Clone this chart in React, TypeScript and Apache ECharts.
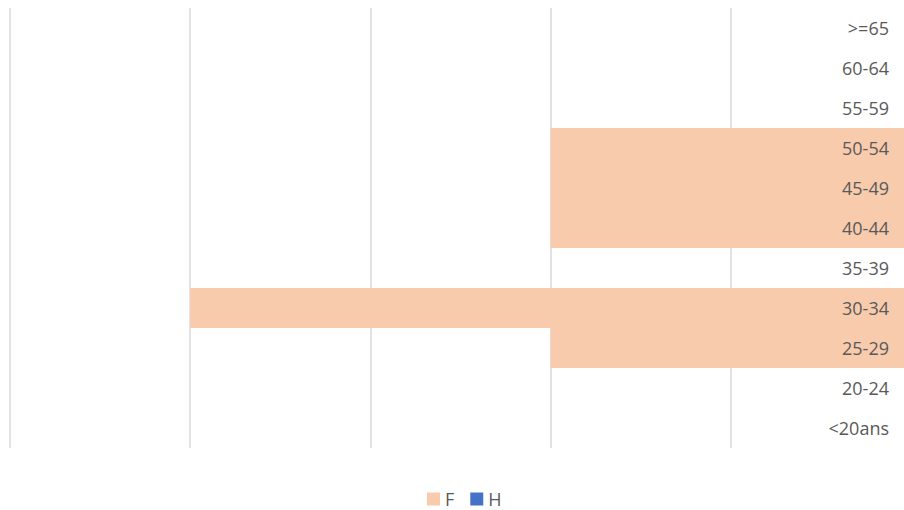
import React, { useEffect, useRef } from "react";
import * as echarts from "echarts";

const categories = ["<20ans", "20-24", "25-29", "30-34", "35-39", "40-44", "45-49", "50-54", "55-59", "60-64", ">=65"];
const femmes = [0, 0, 2, 4, 0, 2, 2, 2, 0, 0, 0];
const hommes = [0, 0, 0, 0, 0, 0, 0, 0, 0, 0, 0];
const seriesNames = ["F", "H"];

export default function App() {
  const ref = useRef<HTMLDivElement>(null);
  useEffect(() => {
    if (!ref.current) return;
    const chart = echarts.init(ref.current, undefined, { renderer: "svg" });
    chart.setOption({
      animation: false,
      textStyle: { fontFamily: "Open Sans" },
      legend: {
        top: 490,
        left: 427,
        padding: 0,
        itemWidth: 13,
        itemHeight: 13,
        itemGap: 16,
        icon: "rect",
        textStyle: { color: "#595959", fontSize: 18, lineHeight: 18, fontFamily: "Open Sans" },
        data: seriesNames,
      },
      grid: { left: 10, right: 9, top: 8, height: 440, containLabel: false },
      xAxis: {
        type: "value",
        min: -5,
        max: 0,
        interval: 1,
        axisLabel: { show: false },
        axisLine: { show: false },
        axisTick: { show: false },
        splitLine: { lineStyle: { color: "#D9D9D9", width: 1.5 } },
      },
      yAxis: {
        type: "category",
        data: categories,
        position: "right",
        axisLine: { show: false },
        axisTick: { show: false },
        axisLabel: {
          inside: true,
          margin: 22,
          color: "#595959",
          fontSize: 18,
          fontFamily: "Open Sans",
        },
        z: 10,
      },
      series: [
        {
          name: seriesNames[0],
          type: "bar",
          stack: "total",
          data: femmes.map((v) => -v),
          barCategoryGap: "0%",
          itemStyle: { color: "#F8CBAD" },
        },
        {
          name: seriesNames[1],
          type: "bar",
          stack: "total",
          data: hommes,
          barCategoryGap: "0%",
          itemStyle: { color: "#4472C4" },
        },
      ],
    });
    return () => chart.dispose();
  }, []);
  return (
    <div style={{ position: "fixed", left: 0, top: 0, width: 904, height: 510, overflow: "hidden", background: "#fff" }}>
      <div ref={ref} style={{ width: 920, height: 510 }} />
    </div>
  );
}
